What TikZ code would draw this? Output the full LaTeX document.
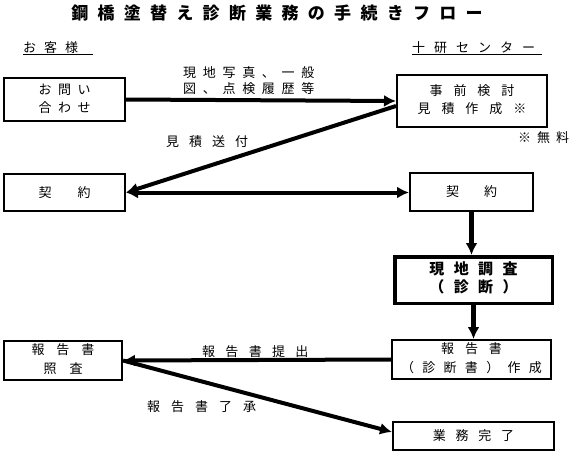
\documentclass[tikz,border=0pt]{standalone}
\usepackage{fontspec}
\newfontfamily\jp{Noto Sans CJK JP}
\usetikzlibrary{arrows.meta}
\newdimen\jspsep
\def\jsp#1#2{\jspsep=#1\relax\jspA#2\relax\relax}
\def\jspA#1#2{#1\ifx\relax#2\else\hskip\jspsep\expandafter\jspA\expandafter#2\fi}
\newcommand\twol[2]{\begin{tabular}{@{}c@{}}#1\\#2\end{tabular}}
\begin{document}
\begin{tikzpicture}[x=1pt,y=-1pt,
  >={Latex[length=12pt,width=12pt]},
  box/.style={draw, line width=2pt, inner sep=0pt, font=\jp\fontsize{13}{18}\selectfont},
  bbox/.style={box, line width=3.5pt, font=\jp\bfseries\fontsize{15}{17}\selectfont},
  lbl/.style={inner sep=0pt, anchor=west, font=\jp\fontsize{13}{16}\selectfont},
  head/.style={inner sep=0pt, anchor=base west, font=\jp\fontsize{13}{16}\selectfont},
  ttl/.style={inner sep=0pt, font=\jp\bfseries\fontsize{17}{20}\selectfont},
  uline/.style={line width=1pt},
  arr/.style={line width=4pt, ->},
  varr/.style={line width=5pt, ->}]
\fill[white] (0,0) rectangle (571,453);
\useasboundingbox (0,0) rectangle (571,453);

\node[ttl] (title) at (277,13) {\jsp{9.3pt}{鋼橋塗替え診断業務の手続きフロー}};
\node[head] (cust) at (23,52.5) {\jsp{8pt}{お客様}};
\draw[uline] ([yshift=-2pt]cust.base west) -- ++(70,0);
\node[head] (ctr) at (412,52.5) {\jsp{9pt}{十研センター}};
\draw[uline] ([yshift=-2pt]ctr.base west) -- ++(130,0);

\node[box, minimum width=121pt, minimum height=43pt] (b1) at (64.5,99.5)
  {\twol{\jsp{6.5pt}{お問い}\hspace{14pt}}{\jsp{6.5pt}{合わせ}\hspace{14pt}}};
\node[box, minimum width=150pt, minimum height=52pt] (b2) at (472,101)
  {\twol{\jsp{11pt}{事前検討}\hspace{11pt}}{\jsp{11pt}{見積作成※}\hspace{11pt}}};
\node[box, minimum width=121pt, minimum height=37pt] (b3) at (64.5,192.5)
  {\jsp{26pt}{契約}\hspace{11pt}};
\node[box, minimum width=123pt, minimum height=38pt] (b4) at (471.5,192)
  {\jsp{25pt}{契約}\hspace{6pt}};
\node[bbox, minimum width=157.5pt, minimum height=46.5pt] (b5) at (473.5,280)
  {\twol{\jsp{9.4pt}{現地調査}\hspace{22pt}}{\jsp{9.4pt}{（診断）}\hspace{13pt}}};
\node[box, font=\jp\fontsize{13}{19}\selectfont, minimum width=159pt, minimum height=39pt] (b6) at (471.5,359.5)
  {\twol{\jsp{11pt}{報告書}\hspace{9pt}}{\jsp{8.3pt}{（診断書）作成}\hspace{13pt}}};
\node[box, font=\jp\fontsize{13}{19}\selectfont, minimum width=118pt, minimum height=39pt] (b7) at (63,360.5)
  {\twol{\jsp{12pt}{報告書}\hspace{8pt}}{\jsp{13pt}{照査}\hspace{4pt}}};
\node[box, minimum width=161pt, minimum height=28pt] (b8) at (473.5,436)
  {\jsp{9.7pt}{業務完了}\hspace{11pt}};

\node[lbl, align=left] (l1) at (183,81) {\jsp{6.7pt}{現地写真、一般}\\\jsp{6.7pt}{図、点検履歴等}};
\node[lbl] (l2) at (166,142) {\jsp{10pt}{見積送付}};
\node[lbl] (l3) at (202,352) {\jsp{10.3pt}{報告書提出}};
\node[lbl] (l4) at (147,407) {\jsp{11pt}{報告書了承}};
\node[lbl] (l5) at (518,138) {\jsp{6pt}{※無料}};

\draw[arr] (b1.east) -- (b2.west);
\draw[arr] ([yshift=-5pt]b2.west) -- (b3.east);
\draw[arr, <->] (b3.east) -- (b3.east -| b4.west);
\draw[varr] (b4.south) -- (b4.south |- b5.north);
\draw[varr] (b5.south) -- (b5.south |- b6.north);
\draw[arr] (b6.west) -- (b7.east);
\draw[arr] (b7.east) -- ([yshift=4pt]b8.west);
\end{tikzpicture}
\end{document}
